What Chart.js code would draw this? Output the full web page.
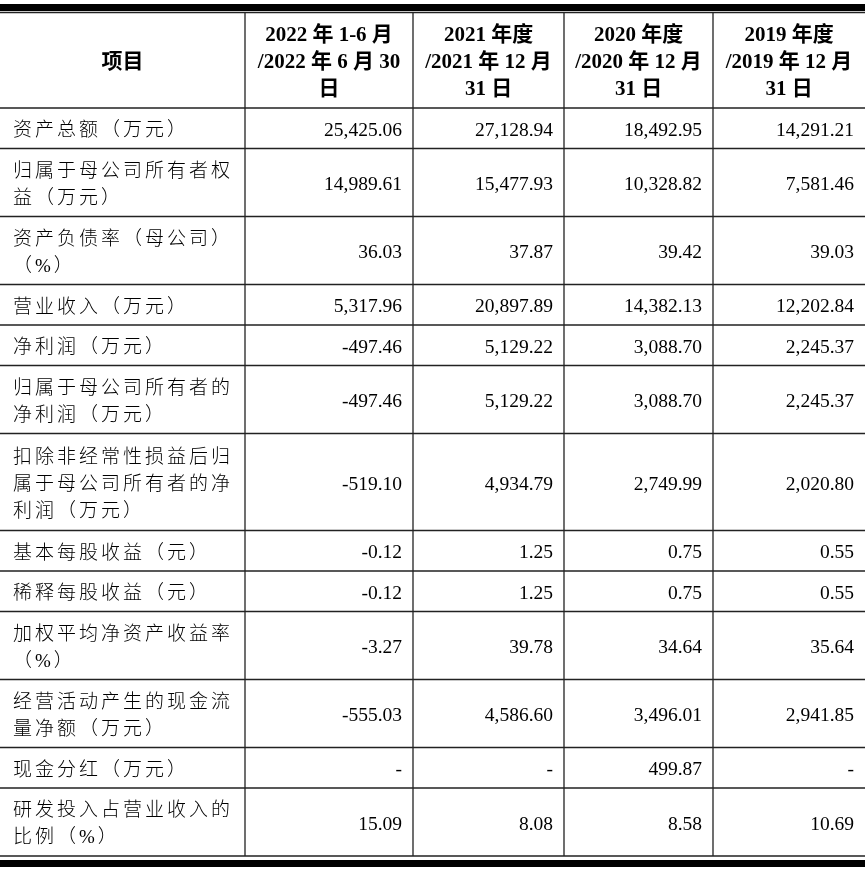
<!DOCTYPE html>
<html>
<head>
<meta charset="utf-8">
<script src="https://cdn.jsdelivr.net/npm/chart.js@4"></script>
<style>
  html, body { margin: 0; padding: 0; background: #fff; }
  #wrap { width: 865px; height: 870px; position: relative; }
</style>
</head>
<body>
<div id="wrap"><canvas id="table"></canvas></div>
<script>
// table content
const headers = [
    '项目',
    '2022 年 1-6 月\n/2022 年 6 月 30\n日',
    '2021 年度\n/2021 年 12 月\n31 日',
    '2020 年度\n/2020 年 12 月\n31 日',
    '2019 年度\n/2019 年 12 月\n31 日'
];
const items = [
    '资产总额（万元）',
    '归属于母公司所有者权\n益（万元）',
    '资产负债率（母公司）\n（%）',
    '营业收入（万元）',
    '净利润（万元）',
    '归属于母公司所有者的\n净利润（万元）',
    '扣除非经常性损益后归\n属于母公司所有者的净\n利润（万元）',
    '基本每股收益（元）',
    '稀释每股收益（元）',
    '加权平均净资产收益率\n（%）',
    '经营活动产生的现金流\n量净额（万元）',
    '现金分红（万元）',
    '研发投入占营业收入的\n比例（%）'
];
const h1_2022 = [25425.06, 14989.61, 36.03, 5317.96, -497.46, -497.46, -519.10, -0.12, -0.12, -3.27, -555.03, null, 15.09];
const y2021 = [27128.94, 15477.93, 37.87, 20897.89, 5129.22, 5129.22, 4934.79, 1.25, 1.25, 39.78, 4586.60, null, 8.08];
const y2020 = [18492.95, 10328.82, 39.42, 14382.13, 3088.70, 3088.70, 2749.99, 0.75, 0.75, 34.64, 3496.01, 499.87, 8.58];
const y2019 = [14291.21, 7581.46, 39.03, 12202.84, 2245.37, 2245.37, 2020.80, 0.55, 0.55, 35.64, 2941.85, null, 10.69];
const periods = [h1_2022, y2021, y2020, y2019];

// layout (in scale units)
const colEdges = [0, 245, 413, 564, 713, 865];
const headTop = 12.5, headBottom = 108;
const rowHeights = { 1: 40.5, 2: 68, 3: 97 };
const lineGap = 27;
const serif = '"Liberation Serif", "Times New Roman", "Noto Sans CJK SC", serif';
const cjk = '"Liberation Serif", "Noto Sans CJK SC", sans-serif';

function fmt(v) {
    if (v === null) return '-';
    return v.toLocaleString('en-US', { minimumFractionDigits: 2, maximumFractionDigits: 2 });
}

const tablePlugin = {
    id: 'tablePlugin',
    afterDraw(chart) {
        const ctx = chart.ctx,
            xs = chart.scales.x,
            ys = chart.scales.y;
        const X = v => xs.getPixelForValue(v),
            Y = v => ys.getPixelForValue(v);

        // row boundaries from line counts
        let edges = [headBottom];
        items.forEach(function(label) {
            let n = label.split('\n').length;
            edges.push(edges[edges.length - 1] + rowHeights[n]);
        });
        let bottom = edges[edges.length - 1];

        ctx.save();
        ctx.fillStyle = '#000';
        // thick rules
        ctx.fillRect(X(0), Y(4), X(865) - X(0), Y(11) - Y(4));
        ctx.fillRect(X(0), Y(bottom + 4), X(865) - X(0), Y(bottom + 11) - Y(bottom + 4));

        ctx.strokeStyle = '#222';
        ctx.lineWidth = 1.3;
        ctx.beginPath();
        ctx.moveTo(X(0), Y(headTop)); ctx.lineTo(X(865), Y(headTop));
        edges.forEach(function(e) {
            ctx.moveTo(X(0), Y(e)); ctx.lineTo(X(865), Y(e));
        });
        colEdges.slice(1, -1).forEach(function(c) {
            ctx.moveTo(X(c), Y(headTop)); ctx.lineTo(X(c), Y(bottom));
        });
        ctx.stroke();

        // header
        ctx.fillStyle = '#000';
        ctx.textAlign = 'center';
        ctx.textBaseline = 'middle';
        ctx.font = 'bold 21px ' + serif;
        headers.forEach(function(h, i) {
            let lines = h.split('\n'),
                cx = (colEdges[i] + colEdges[i + 1]) / 2,
                cy = (headTop + headBottom) / 2 + 2.5;
            lines.forEach(function(t, k) {
                ctx.fillText(t, X(cx), Y(cy + (k - (lines.length - 1) / 2) * lineGap));
            });
        });

        // left column labels
        ctx.textAlign = 'left';
        ctx.font = '300 19px ' + cjk;
        ctx.fillStyle = '#000';
        ctx.letterSpacing = '3px';
        items.forEach(function(label, r) {
            let lines = label.split('\n'),
                cy = (edges[r] + edges[r + 1]) / 2 + 3;
            lines.forEach(function(t, k) {
                ctx.fillText(t, X(13), Y(cy + (k - (lines.length - 1) / 2) * lineGap));
            });
        });
        ctx.letterSpacing = '0px';

        // values
        ctx.textAlign = 'right';
        ctx.font = '19.5px ' + serif;
        ctx.fillStyle = '#000';
        periods.forEach(function(series, c) {
            series.forEach(function(v, r) {
                let cy = (edges[r] + edges[r + 1]) / 2;
                ctx.fillText(fmt(v), X(colEdges[c + 2] - 11), Y(cy + 2.5));
            });
        });
        ctx.restore();
    }
};

new Chart(document.getElementById('table'), {
    type: 'scatter',
    data: { datasets: [] },
    options: {
        responsive: true,
        maintainAspectRatio: false,
        animation: false,
        events: [],
        layout: { padding: 0 },
        plugins: { legend: { display: false }, tooltip: { enabled: false } },
        scales: {
            x: { type: 'linear', min: 0, max: 865, display: false },
            y: { type: 'linear', min: 0, max: 870, reverse: true, display: false }
        }
    },
    plugins: [tablePlugin]
});
</script>
</body>
</html>
